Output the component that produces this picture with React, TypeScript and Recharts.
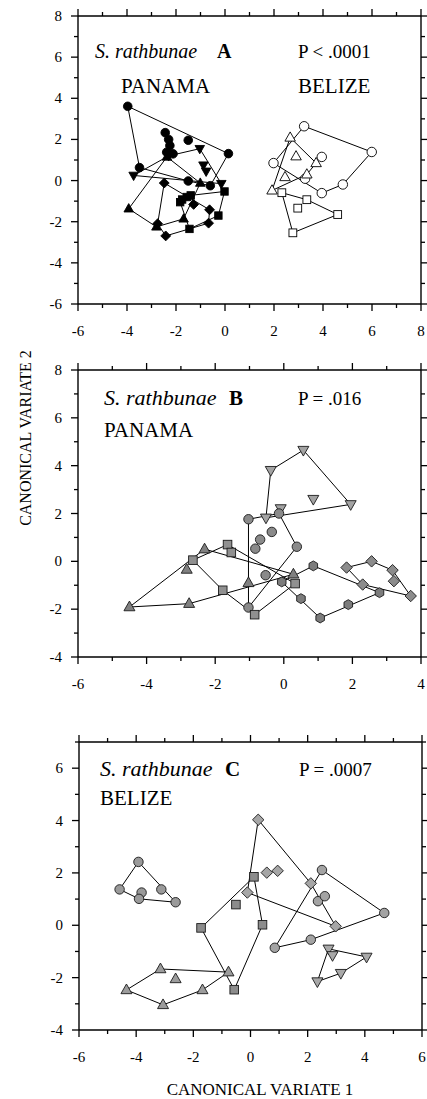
import React from "react";
import { ScatterChart, Scatter, XAxis, YAxis, ReferenceLine } from "recharts";

type Pt = [number, number];

// ---- Panel A: S. rathbunae, Panama vs Belize (canonical variates 1 & 2) ----
const aPanamaCircle: Pt[] = [[-3.97, 3.61], [-2.44, 2.33], [-2.3, 2.0], [-2.25, 1.7], [-2.38, 1.38], [-2.12, 1.3], [-1.5, 1.96], [0.14, 1.31], [-1.5, -0.02], [-0.6, -0.25], [-3.49, 0.63]];
const aPanamaDown: Pt[] = [[-3.73, 0.25], [-2.3, 1.2], [-1.03, 1.55], [-0.88, 0.75], [-0.77, 0.45], [-0.15, -0.15]];
const aPanamaUp: Pt[] = [[-2.37, 1.15], [-3.93, -1.37], [-2.8, -2.25], [-1.69, -1.86], [-1.01, -0.12]];
const aPanamaDiamond: Pt[] = [[-2.48, -0.12], [-2.75, -2.1], [-2.42, -2.69], [-1.28, -1.16], [-0.63, -1.42], [-0.67, -2.07]];
const aPanamaSquare: Pt[] = [[-0.02, -0.53], [-0.27, -1.7], [-1.45, -2.35], [-1.83, -1.05], [-1.56, -0.8], [-1.75, -0.92], [-1.4, -0.72]];
const aBelizeCircle: Pt[] = [[1.98, 0.85], [3.23, 2.64], [5.99, 1.39], [3.95, 1.15], [4.81, -0.19], [3.95, -0.61], [3.27, 0.09]];
const aBelizeUp: Pt[] = [[2.66, 2.09], [2.9, 1.18], [3.72, 0.85], [2.45, 0.17], [3.34, 0.3], [1.92, -0.48]];
const aBelizeSquare: Pt[] = [[2.32, -0.59], [3.34, -0.93], [2.97, -1.34], [4.6, -1.65], [2.77, -2.54]];

// ---- Panel B: Panama localities ----
const bDown: Pt[] = [[0.57, 4.65], [-0.38, 3.81], [0.86, 2.6], [1.95, 2.38], [-0.09, 2.21], [-0.52, 1.82]];
const bCircle: Pt[] = [[-1.03, 1.76], [-0.14, 2.0], [-0.35, 1.23], [-0.69, 0.91], [-0.83, 0.53], [0.38, 0.61], [-0.53, -0.58], [-1.03, -1.93]];
const bHex: Pt[] = [[-0.06, -0.86], [0.86, -0.19], [0.5, -1.56], [1.06, -2.37], [1.88, -1.81], [2.79, -1.31]];
const bDiamond: Pt[] = [[1.83, -0.26], [2.56, 0.0], [3.17, -0.37], [3.21, -0.83], [2.3, -0.97], [3.7, -1.45]];
const bUp: Pt[] = [[-4.5, -1.91], [-2.76, -1.77], [-2.83, -0.34], [-2.31, 0.51], [-1.03, -0.9], [0.28, -0.54]];
const bSquare: Pt[] = [[-2.65, 0.05], [-1.64, 0.7], [-1.53, 0.37], [-1.78, -1.21], [-0.85, -2.23], [0.33, -0.93]];

// ---- Panel C: Belize localities ----
const cCircleLeft: Pt[] = [[-3.92, 2.42], [-4.58, 1.37], [-3.81, 1.25], [-3.9, 1.01], [-3.12, 1.37], [-2.62, 0.88]];
const cSquare: Pt[] = [[0.12, 1.85], [-0.51, 0.79], [-1.73, -0.1], [0.42, 0.02], [-0.57, -2.46]];
const cDiamond: Pt[] = [[0.27, 4.03], [-0.11, 1.25], [0.57, 2.01], [0.95, 2.08], [2.11, 1.6], [2.98, -0.04]];
const cCircleRight: Pt[] = [[2.5, 2.11], [2.36, 0.92], [2.6, 1.11], [4.68, 0.47], [2.11, -0.55], [0.85, -0.86]];
const cDown: Pt[] = [[2.73, -0.9], [2.87, -1.15], [4.06, -1.21], [3.16, -1.83], [2.34, -2.15]];
const cUp: Pt[] = [[-3.15, -1.67], [-2.62, -2.05], [-4.34, -2.47], [-3.06, -3.04], [-1.68, -2.47], [-0.77, -1.79]];

// axis ticks (labels on even values, short ticks on odd ones)
const aTicksX = [-6, -5, -4, -3, -2, -1, 0, 1, 2, 3, 4, 5, 6, 7, 8];
const aTicksY = [-6, -5, -4, -3, -2, -1, 0, 1, 2, 3, 4, 5, 6, 7, 8];
const bTicksX = [-6, -5, -4, -3, -2, -1, 0, 1, 2, 3, 4];
const bTicksY = [-4, -3, -2, -1, 0, 1, 2, 3, 4, 5, 6, 7, 8];
const cTicksX = [-6, -5, -4, -3, -2, -1, 0, 1, 2, 3, 4, 5, 6];
const cTicksY = [-4, -3, -2, -1, 0, 1, 2, 3, 4, 5, 6, 7];

const SERIF = "'Liberation Serif', 'Times New Roman', serif";
const W = 427;

type Kind = "circle" | "square" | "diamond" | "up" | "down" | "hex";
type Group = { pts: Pt[]; kind: Kind; fill: string; stroke: string; s?: number };
type Box = { left: number; right: number; top: number; bottom: number };
type PanelCfg = {
  top: number; height: number; plot: Box;
  xDomain: [number, number]; yDomain: [number, number];
  xTicks: number[]; yTicks: number[]; groups: Group[];
};

// convex hull (monotone chain), closed so the scatter line draws the outline
function hull(pts: Pt[]) {
  const p = [...pts].sort((a, b) => a[0] - b[0] || a[1] - b[1]);
  const cross = (o: Pt, a: Pt, b: Pt) => (a[0] - o[0]) * (b[1] - o[1]) - (a[1] - o[1]) * (b[0] - o[0]);
  const lo: Pt[] = [];
  const up: Pt[] = [];
  for (const q of p) {
    while (lo.length >= 2 && cross(lo[lo.length - 2], lo[lo.length - 1], q) <= 0) lo.pop();
    lo.push(q);
  }
  for (const q of [...p].reverse()) {
    while (up.length >= 2 && cross(up[up.length - 2], up[up.length - 1], q) <= 0) up.pop();
    up.push(q);
  }
  const h = lo.slice(0, -1).concat(up.slice(0, -1));
  h.push(h[0]);
  return h.map(([x, y]) => ({ x, y }));
}

const toXY = (pts: Pt[]) => pts.map(([x, y]) => ({ x, y }));

function Mark({ cx, cy, kind, fill, stroke, s = 1 }: { cx?: number; cy?: number; kind: Kind; fill: string; stroke: string; s?: number }) {
  if (cx == null || cy == null) return <g />;
  const common = { fill, stroke, strokeWidth: 0.9 };
  switch (kind) {
    case "circle":
      return <circle cx={cx} cy={cy} r={4.3 * s} {...common} />;
    case "square": {
      const h = 3.9 * s;
      return <rect x={cx - h} y={cy - h} width={2 * h} height={2 * h} {...common} />;
    }
    case "diamond": {
      const r = 5.2 * s;
      return <polygon points={`${cx},${cy - r} ${cx + r},${cy} ${cx},${cy + r} ${cx - r},${cy}`} {...common} />;
    }
    case "up":
      return <polygon points={`${cx},${cy - 5.4 * s} ${cx + 5 * s},${cy + 3.4 * s} ${cx - 5 * s},${cy + 3.4 * s}`} {...common} />;
    case "down":
      return <polygon points={`${cx},${cy + 5.4 * s} ${cx + 5 * s},${cy - 3.4 * s} ${cx - 5 * s},${cy - 3.4 * s}`} {...common} />;
    case "hex": {
      const r = 4.7 * s;
      const pts = [0, 1, 2, 3, 4, 5]
        .map((i) => {
          const a = (Math.PI / 3) * i + Math.PI / 6;
          return `${cx + r * Math.cos(a)},${cy + r * Math.sin(a)}`;
        })
        .join(" ");
      return <polygon points={pts} {...common} />;
    }
  }
  return <g />;
}

const tickLen = (v: number) => (v % 2 === 0 ? 7 : 4);

// labels only on the even values
function XTick(props: any) {
  const { x, y, payload } = props;
  const v = payload.value;
  if (v % 2 !== 0) return <g />;
  return (
    <text x={x} y={y + 32} textAnchor="middle" fontSize={15} fontFamily={SERIF} fill="#000">
      {v}
    </text>
  );
}

function YTick(props: any) {
  const { x, y, payload } = props;
  const v = payload.value;
  if (v % 2 !== 0) return <g />;
  return (
    <text x={x - 16} y={y} dy={5} textAnchor="end" fontSize={15} fontFamily={SERIF} fill="#000">
      {v}
    </text>
  );
}

function Panel({ top, height, plot, xDomain, yDomain, xTicks, yTicks, groups }: PanelCfg) {
  const mt = plot.top - top;
  const xh = top + height - plot.bottom;
  return (
    <div style={{ position: "absolute", left: 0, top }}>
      <ScatterChart width={W} height={height} margin={{ top: mt, right: W - plot.right, left: 0, bottom: 0 }}>
        <XAxis
          dataKey="x" type="number" domain={xDomain} ticks={xTicks} interval={0}
          allowDataOverflow height={xh} tickSize={0} tickMargin={0} tickLine={false}
          axisLine={{ stroke: "#000", strokeWidth: 1.4 }}
          tick={(p: any) => <XTick {...p} />}
        />
        <YAxis
          dataKey="y" type="number" domain={yDomain} ticks={yTicks} interval={0}
          allowDataOverflow width={plot.left} tickSize={0} tickMargin={0} tickLine={false}
          axisLine={{ stroke: "#000", strokeWidth: 1.4 }}
          tick={(p: any) => <YTick {...p} />}
        />
        <ReferenceLine y={yDomain[1]} stroke="#000" strokeWidth={1.4} />
        <ReferenceLine x={xDomain[1]} stroke="#000" strokeWidth={1.4} />
        {groups.map((g, i) => (
          <Scatter
            key={`h${i}`} data={hull(g.pts)} line={{ stroke: "#000", strokeWidth: 1 }}
            lineType="joint" shape={() => <g />} isAnimationActive={false}
          />
        ))}
        {groups.map((g, i) => (
          <Scatter
            key={`m${i}`} data={toXY(g.pts)} isAnimationActive={false}
            shape={(p: any) => <Mark cx={p.cx} cy={p.cy} kind={g.kind} fill={g.fill} stroke={g.stroke} s={g.s} />}
          />
        ))}
      </ScatterChart>
    </div>
  );
}

// frame tick marks on all four sides, placed with the same linear mapping as the axes
function FrameTicks({ plot, xDomain, yDomain, xTicks, yTicks }: PanelCfg) {
  const sx = (v: number) => plot.left + ((v - xDomain[0]) / (xDomain[1] - xDomain[0])) * (plot.right - plot.left);
  const sy = (v: number) => plot.bottom - ((v - yDomain[0]) / (yDomain[1] - yDomain[0])) * (plot.bottom - plot.top);
  return (
    <g stroke="#000" strokeWidth={1.3}>
      {xTicks.map((v) => (
        <g key={`x${v}`}>
          <line x1={sx(v)} x2={sx(v)} y1={plot.bottom} y2={plot.bottom + tickLen(v)} />
          <line x1={sx(v)} x2={sx(v)} y1={plot.top} y2={plot.top - tickLen(v)} />
        </g>
      ))}
      {yTicks.map((v) => (
        <g key={`y${v}`}>
          <line x1={plot.left} x2={plot.left - tickLen(v)} y1={sy(v)} y2={sy(v)} />
          <line x1={plot.right} x2={plot.right + tickLen(v)} y1={sy(v)} y2={sy(v)} />
        </g>
      ))}
    </g>
  );
}

const BLACK = "#000";
const INK = "#1a1a1a";

const groupsA: Group[] = [
  { pts: aPanamaCircle, kind: "circle", fill: BLACK, stroke: BLACK, s: 1.0 },
  { pts: aPanamaDown, kind: "down", fill: BLACK, stroke: BLACK, s: 0.95 },
  { pts: aPanamaUp, kind: "up", fill: BLACK, stroke: BLACK, s: 0.95 },
  { pts: aPanamaDiamond, kind: "diamond", fill: BLACK, stroke: BLACK, s: 0.95 },
  { pts: aPanamaSquare, kind: "square", fill: BLACK, stroke: BLACK, s: 0.95 },
  { pts: aBelizeCircle, kind: "circle", fill: "#fff", stroke: BLACK, s: 1.1 },
  { pts: aBelizeUp, kind: "up", fill: "#fff", stroke: BLACK, s: 1.05 },
  { pts: aBelizeSquare, kind: "square", fill: "#fff", stroke: BLACK, s: 1.0 },
];

const groupsB: Group[] = [
  { pts: bDown, kind: "down", fill: "#a3a3a3", stroke: INK, s: 1.1 },
  { pts: bCircle, kind: "circle", fill: "#8a8a8a", stroke: INK, s: 1.1 },
  { pts: bHex, kind: "hex", fill: "#7c7c7c", stroke: INK, s: 1.05 },
  { pts: bDiamond, kind: "diamond", fill: "#8c8c8c", stroke: INK, s: 1.1 },
  { pts: bUp, kind: "up", fill: "#808080", stroke: INK, s: 1.1 },
  { pts: bSquare, kind: "square", fill: "#909090", stroke: INK, s: 1.1 },
];

const groupsC: Group[] = [
  { pts: cCircleLeft, kind: "circle", fill: "#9a9a9a", stroke: INK, s: 1.1 },
  { pts: cSquare, kind: "square", fill: "#8c8c8c", stroke: INK, s: 1.1 },
  { pts: cDiamond, kind: "diamond", fill: "#a6a6a6", stroke: INK, s: 1.1 },
  { pts: cCircleRight, kind: "circle", fill: "#a3a3a3", stroke: INK, s: 1.1 },
  { pts: cDown, kind: "down", fill: "#a8a8a8", stroke: INK, s: 1.1 },
  { pts: cUp, kind: "up", fill: "#9c9c9c", stroke: INK, s: 1.1 },
];

const panels: PanelCfg[] = [
  {
    top: 0, height: 345, plot: { left: 78, right: 421, top: 16, bottom: 304 },
    xDomain: [-6, 8], yDomain: [-6, 8], xTicks: aTicksX, yTicks: aTicksY, groups: groupsA,
  },
  {
    top: 355, height: 345, plot: { left: 78, right: 421, top: 370, bottom: 657 },
    xDomain: [-6, 4], yDomain: [-4, 8], xTicks: bTicksX, yTicks: bTicksY, groups: groupsB,
  },
  {
    top: 725, height: 345, plot: { left: 79, right: 422, top: 742, bottom: 1030 },
    xDomain: [-6, 6], yDomain: [-4, 7], xTicks: cTicksX, yTicks: cTicksY, groups: groupsC,
  },
];

export default function App() {
  return (
    <div style={{ position: "absolute", left: 0, top: 0, width: W, height: 1099, background: "#fff", overflow: "hidden" }}>
      {panels.map((p, i) => (
        <Panel key={i} {...p} />
      ))}
      <svg width={W} height={1099} style={{ position: "absolute", left: 0, top: 0, pointerEvents: "none" }}
        fontFamily={SERIF} fill="#000">
        {panels.map((p, i) => (
          <FrameTicks key={i} {...p} />
        ))}
        {/* panel A */}
        <text x={95} y={58} fontSize={20} fontStyle="italic">S. rathbunae</text>
        <text x={217} y={58} fontSize={20} fontWeight="bold">A</text>
        <text x={298} y={58} fontSize={19}>P &lt; .0001</text>
        <text x={121} y={93} fontSize={21}>PANAMA</text>
        <text x={298} y={93} fontSize={21}>BELIZE</text>
        {/* panel B */}
        <text x={104} y={405} fontSize={22} fontStyle="italic">S. rathbunae</text>
        <text x={229} y={405} fontSize={21} fontWeight="bold">B</text>
        <text x={298} y={405} fontSize={19}>P = .016</text>
        <text x={104} y={437} fontSize={21}>PANAMA</text>
        {/* panel C */}
        <text x={100} y={776} fontSize={22} fontStyle="italic">S. rathbunae</text>
        <text x={225} y={776} fontSize={21} fontWeight="bold">C</text>
        <text x={299} y={776} fontSize={19}>P = .0007</text>
        <text x={100} y={805} fontSize={21}>BELIZE</text>
        {/* shared axis titles */}
        <text x={25} y={438} fontSize={16} textAnchor="middle" dominantBaseline="central" transform="rotate(-90 25 438)">
          CANONICAL VARIATE 2
        </text>
        <text x={260} y={1095} fontSize={17} textAnchor="middle">CANONICAL VARIATE 1</text>
      </svg>
    </div>
  );
}
